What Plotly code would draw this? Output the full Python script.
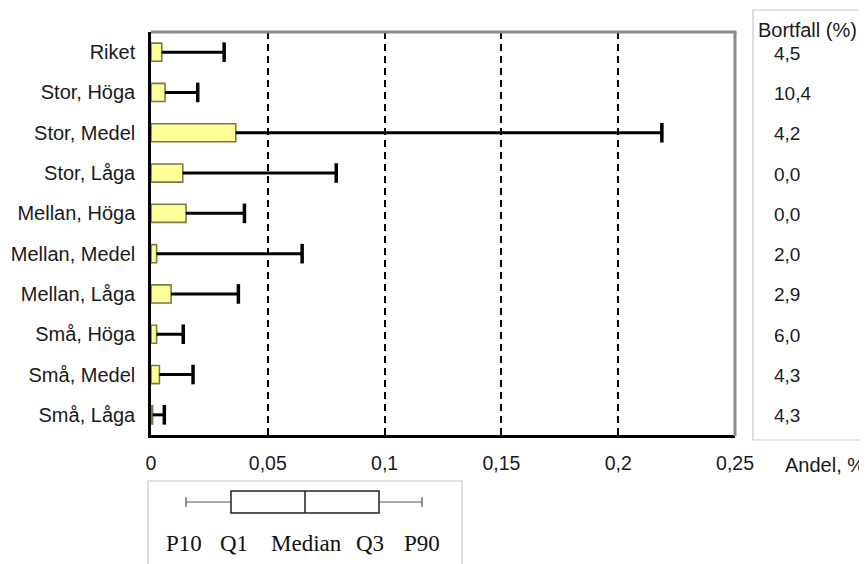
import plotly.graph_objects as go

# ---------------- data ----------------
categories = ["Riket", "Stor, Höga", "Stor, Medel", "Stor, Låga", "Mellan, Höga",
              "Mellan, Medel", "Mellan, Låga", "Små, Höga", "Små, Medel", "Små, Låga"]
q3_values = [0.0046, 0.0060, 0.0363, 0.0136, 0.0150, 0.0024, 0.0086, 0.0024, 0.0036, 0.0007]
p90_values = [0.0313, 0.0200, 0.2187, 0.0793, 0.0400, 0.0647, 0.0374, 0.0138, 0.0180, 0.0057]
bortfall = ["4,5", "10,4", "4,2", "0,0", "0,0", "2,0", "2,9", "6,0", "4,3", "4,3"]
x_tickvals = [0, 0.05, 0.1, 0.15, 0.2, 0.25]
x_ticktext = ["0", "0,05", "0,1", "0,15", "0,2", "0,25"]
legend_labels = ["P10", "Q1", "Median", "Q3", "P90"]

# ---------------- geometry helpers ----------------
OFF = 8  # page body margin offset
W_FIG, H_FIG = 867 - OFF, 564 - OFF
L, T = 151 - OFF, 32 - OFF
PW, PH = 584, 403
R = W_FIG - L - PW
B = H_FIG - T - PH


def xp(px):
    return (px - OFF - L) / PW


def yp(py):
    return (T + PH - (py - OFF)) / PH


FONT = "Liberation Sans, Arial, sans-serif"
SERIF = "Liberation Serif, Times New Roman, serif"
TXT = "#1a1a1a"

fig = go.Figure()

fig.add_trace(go.Bar(
    x=q3_values, y=categories, orientation="h", width=0.45,
    marker=dict(color="#ffff99", line=dict(color="#7a7a4a", width=1.6)),
    hoverinfo="skip", showlegend=False,
))

# whiskers (from bar end to P90)
wx, wy = [], []
for c, a, b in zip(categories, q3_values, p90_values):
    wx += [a, b, None]
    wy += [c, c, None]
fig.add_trace(go.Scatter(x=wx, y=wy, mode="lines",
                         line=dict(color="black", width=3),
                         hoverinfo="skip", showlegend=False))
fig.add_trace(go.Scatter(x=p90_values, y=categories, mode="markers",
                         marker=dict(symbol="line-ns", size=14,
                                     line=dict(color="black", width=3.5)),
                         hoverinfo="skip", showlegend=False))

shapes = []
# top and right frame (gray)
shapes.append(dict(type="line", xref="paper", yref="paper", x0=0, x1=1.0025, y0=1, y1=1,
                   line=dict(color="#8a8a8a", width=3)))
shapes.append(dict(type="line", xref="paper", yref="paper", x0=1, x1=1, y0=-0.003, y1=1,
                   line=dict(color="#8a8a8a", width=3)))
# right panel box
shapes.append(dict(type="rect", xref="paper", yref="paper",
                   x0=xp(753), x1=xp(880), y0=yp(440), y1=yp(10),
                   line=dict(color="#c8c8c8", width=1.2), fillcolor="rgba(0,0,0,0)"))
# bottom legend box
shapes.append(dict(type="rect", xref="paper", yref="paper",
                   x0=xp(148), x1=xp(462), y0=yp(580), y1=yp(481),
                   line=dict(color="#c8c8c8", width=1.2), fillcolor="rgba(0,0,0,0)"))
# boxplot glyph
wy_ = yp(502)
shapes.append(dict(type="line", xref="paper", yref="paper", x0=xp(186), x1=xp(231), y0=wy_, y1=wy_,
                   line=dict(color="#555", width=1)))
shapes.append(dict(type="line", xref="paper", yref="paper", x0=xp(379), x1=xp(422), y0=wy_, y1=wy_,
                   line=dict(color="#555", width=1)))
for cx in (186, 422):
    shapes.append(dict(type="line", xref="paper", yref="paper", x0=xp(cx), x1=xp(cx),
                       y0=yp(497), y1=yp(507), line=dict(color="#555", width=1.2)))
shapes.append(dict(type="rect", xref="paper", yref="paper", x0=xp(231), x1=xp(379),
                   y0=yp(513), y1=yp(491), line=dict(color="#222", width=1.5),
                   fillcolor="white"))
shapes.append(dict(type="line", xref="paper", yref="paper", x0=xp(305), x1=xp(305),
                   y0=yp(513), y1=yp(491), line=dict(color="#222", width=1.5)))

annotations = []
annotations.append(dict(xref="paper", yref="paper", x=xp(756), y=yp(30), text="Bortfall (%)",
                        showarrow=False, xanchor="left", yanchor="middle",
                        font=dict(family=FONT, size=20, color=TXT)))
for c, v in zip(categories, bortfall):
    annotations.append(dict(xref="paper", yref="y", x=xp(772), y=c, text=v, yshift=-1,
                            showarrow=False, xanchor="left", yanchor="middle",
                            font=dict(family=FONT, size=19, color=TXT)))
annotations.append(dict(xref="paper", yref="paper", x=xp(783), y=yp(465), text="Andel, %",
                        showarrow=False, xanchor="left", yanchor="middle",
                        font=dict(family=FONT, size=20, color=TXT)))
legend_x = [184, 234, 306, 370, 422]
for lab, lx in zip(legend_labels, legend_x):
    annotations.append(dict(xref="paper", yref="paper", x=xp(lx), y=yp(543), text=lab,
                            showarrow=False, xanchor="center", yanchor="middle",
                            font=dict(family=SERIF, size=23, color="#111")))

fig.update_layout(
    width=W_FIG, height=H_FIG,
    margin=dict(l=L, r=R, t=T, b=B, pad=0, autoexpand=False),
    paper_bgcolor="white", plot_bgcolor="white",
    showlegend=False, bargap=0.5,
    shapes=shapes, annotations=annotations,
    xaxis=dict(range=[0, 0.25], tickvals=x_tickvals, ticktext=x_ticktext,
               showgrid=True, gridcolor="black", gridwidth=1.5, griddash="7px,5px",
               showline=True, linecolor="black", linewidth=2.5, zeroline=False,
               ticks="", ticklabelstandoff=9, automargin=False,
               tickfont=dict(family=FONT, size=19.5, color=TXT), fixedrange=True),
    yaxis=dict(categoryorder="array", categoryarray=categories,
               range=[len(categories) - 0.5, -0.5],
               showline=True, linecolor="black", linewidth=2.5, showgrid=False,
               zeroline=False, ticks="", ticklabelstandoff=9, automargin=False,
               tickfont=dict(family=FONT, size=20, color=TXT), fixedrange=True),
)

fig.write_html("out.html")
